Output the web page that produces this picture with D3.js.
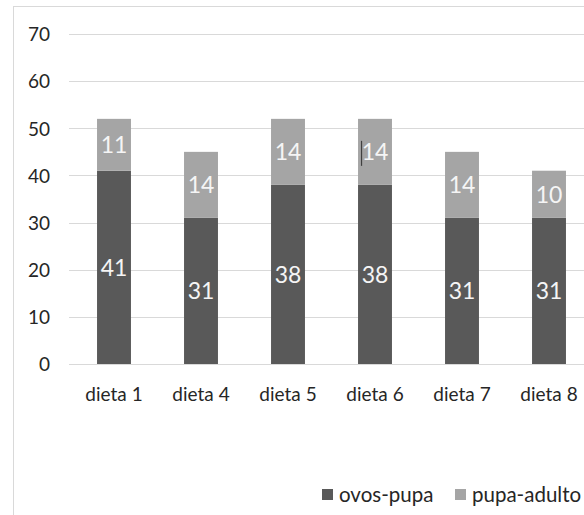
<!DOCTYPE html>
<html>
<head>
<meta charset="utf-8">
<script src="https://cdn.jsdelivr.net/npm/d3@7"></script>
<style>
  html, body { margin: 0; padding: 0; background: #fff; }
  svg { display: block; font-family: "Lato", "Open Sans", sans-serif; }
</style>
</head>
<body>
<svg id="chart" width="584" height="515"></svg>
<script>
// Categories and stacked series values
const categories = ["dieta 1", "dieta 4", "dieta 5", "dieta 6", "dieta 7", "dieta 8"];
const ovosPupa = [41, 31, 38, 38, 31, 31];
const pupaAdulto = [11, 14, 14, 14, 14, 10];
const seriesNames = ["ovos-pupa", "pupa-adulto"];
const seriesColors = ["#595959", "#a5a5a5"];
const yTicks = [0, 10, 20, 30, 40, 50, 60, 70];

const svg = d3.select("#chart");

// Outer chart frame (extends past the right/bottom edges)
svg.append("rect")
  .attr("x", 13.5).attr("y", 6.5)
  .attr("width", 620).attr("height", 540)
  .attr("fill", "none").attr("stroke", "#d9d9d9");

const plot = { left: 70.5, right: 592.5, top: 34, bottom: 364 };

const x = d3.scaleBand()
  .domain(categories)
  .range([plot.left, plot.right])
  .paddingInner(0.61)
  .paddingOuter(0.305);

const y = d3.scaleLinear()
  .domain([0, 70])
  .range([plot.bottom, plot.top]);

// Gridlines
svg.append("g")
  .selectAll("line")
  .data(yTicks)
  .join("line")
  .attr("x1", 69).attr("x2", 600)
  .attr("y1", d => Math.round(y(d)) + 0.5)
  .attr("y2", d => Math.round(y(d)) + 0.5)
  .attr("stroke", "#d9d9d9")
  .attr("stroke-width", 1);

// Y axis labels
const yAxis = d3.axisLeft(y).tickValues(yTicks).tickSize(0).tickPadding(0);
const yg = svg.append("g").attr("transform", "translate(50,0)").call(yAxis);
yg.select(".domain").remove();
yg.selectAll("text")
  .attr("font-size", 19)
  .attr("fill", "#262626")
  .attr("dy", "0.36em")
  .style("font-family", "Lato, 'Open Sans', sans-serif");

// Stack data
const rows = categories.map((c, i) => ({ cat: c, "ovos-pupa": ovosPupa[i], "pupa-adulto": pupaAdulto[i] }));
const stack = d3.stack().keys(seriesNames)(rows);

const groups = svg.append("g")
  .selectAll("g")
  .data(stack)
  .join("g")
  .attr("fill", (d, i) => seriesColors[i]);

groups.selectAll("rect")
  .data(d => d)
  .join("rect")
  .attr("x", d => x(d.data.cat))
  .attr("width", x.bandwidth())
  .attr("y", d => y(d[1]))
  .attr("height", d => y(d[0]) - y(d[1]));

// Value labels inside segments
groups.selectAll("text")
  .data(d => d.map(v => ({ v, key: d.key })))
  .join("text")
  .attr("x", d => x(d.v.data.cat) + x.bandwidth() / 2)
  .attr("y", d => y((d.v[0] + d.v[1]) / 2))
  .attr("dy", "0.36em")
  .attr("text-anchor", "middle")
  .attr("font-size", 23)
  .attr("fill", "#f5f5f5")
  .text(d => d.v.data[d.key]);

// Text caret beside the dieta 6 upper label
const d6 = rows[3];
svg.append("line")
  .attr("x1", x("dieta 6") + 3.5).attr("x2", x("dieta 6") + 3.5)
  .attr("y1", y(d6["ovos-pupa"] + d6["pupa-adulto"] / 2) - 11)
  .attr("y2", y(d6["ovos-pupa"] + d6["pupa-adulto"] / 2) + 14)
  .attr("stroke", "#404040")
  .attr("stroke-width", 1.2);

// X axis labels
const xAxis = d3.axisBottom(x).tickSize(0).tickPadding(0);
const xg = svg.append("g").attr("transform", "translate(0,394)").call(xAxis);
xg.select(".domain").remove();
xg.selectAll("text")
  .attr("font-size", 19)
  .attr("fill", "#262626")
  .attr("dy", "0.36em")
  .style("font-family", "Lato, 'Open Sans', sans-serif");

// Legend
const legendItems = [
  { name: seriesNames[0], color: seriesColors[0], x: 322 },
  { name: seriesNames[1], color: seriesColors[1], x: 455 }
];
const lg = svg.append("g");
lg.selectAll("rect")
  .data(legendItems)
  .join("rect")
  .attr("x", d => d.x).attr("y", 489)
  .attr("width", 11).attr("height", 11)
  .attr("fill", d => d.color);
lg.selectAll("text")
  .data(legendItems)
  .join("text")
  .attr("x", d => d.x + 17).attr("y", 494.5)
  .attr("dy", "0.35em")
  .attr("font-size", 20.5)
  .attr("fill", "#262626")
  .text(d => d.name);
</script>
</body>
</html>
